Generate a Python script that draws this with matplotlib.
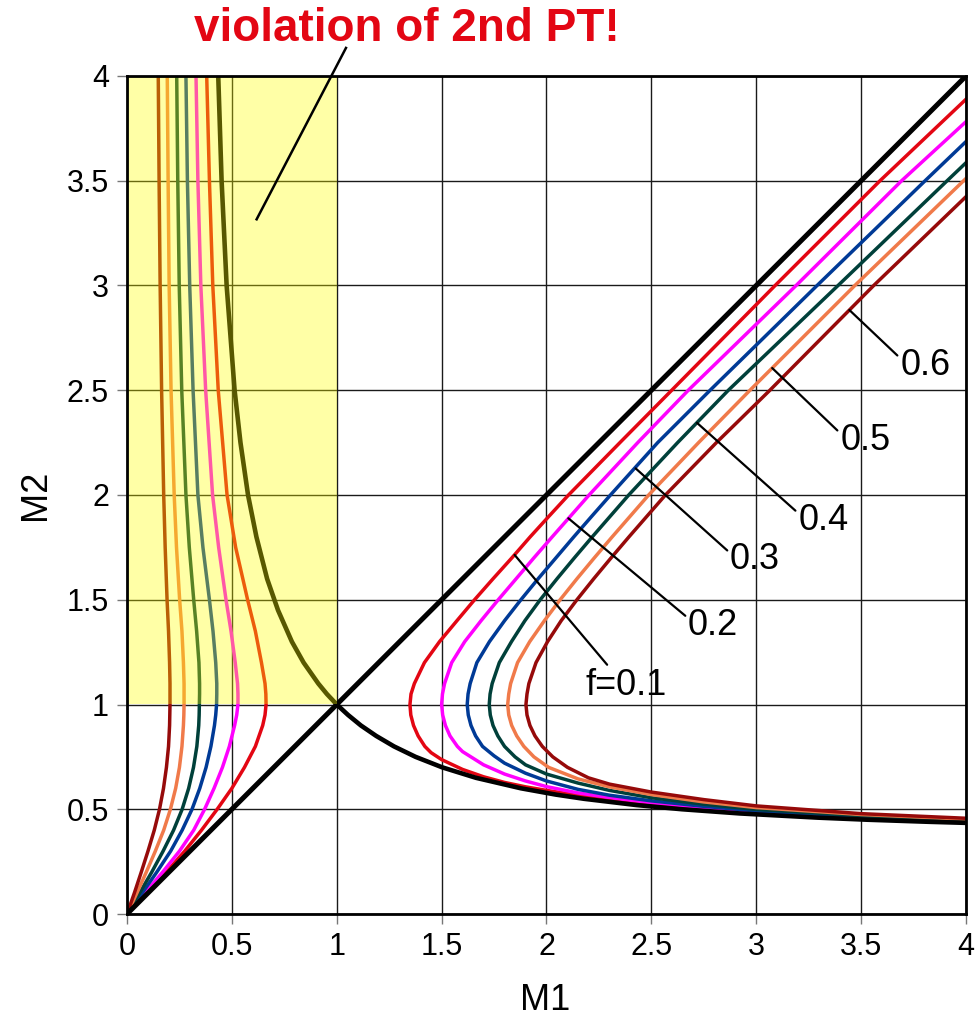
import matplotlib
matplotlib.use('Agg')
import matplotlib.pyplot as plt
from matplotlib.patches import Rectangle

ARIAL = ['Liberation Sans', 'DejaVu Sans']

# ---- data ------------------------------------------------------------
f_labels = ['f=0.1', '0.2', '0.3', '0.4', '0.5', '0.6']
colors = ['#e30613', '#ff00ff', '#003a96', '#00403a', '#f07a4a', '#960a0a']

# supersonic family, each curve traced from its lower end (M1 = 4)
# round the nose to its upper end (M1 = 4)
sup01_m1 = [4.0, 3.5, 3.0, 2.75, 2.5, 2.3, 2.15, 2.0, 1.9, 1.8, 1.7, 1.6, 1.5, 1.45,
            1.42, 1.388, 1.366, 1.353, 1.349, 1.354, 1.37, 1.418, 1.49, 1.573, 1.657,
            1.745, 1.835, 1.922, 2.013, 2.105, 2.35, 2.597, 3.09, 3.59, 4.0]
sup01_m2 = [0.44, 0.459, 0.484, 0.502, 0.524, 0.548, 0.567, 0.59, 0.607, 0.628, 0.655, 0.69,
            0.737, 0.77, 0.80, 0.85, 0.90, 0.95, 1.0, 1.05, 1.1, 1.2, 1.3, 1.4, 1.5,
            1.6, 1.7, 1.8, 1.9, 2.0, 2.25, 2.5, 3.0, 3.5, 3.889]
sup02_m1 = [4.0, 3.5, 3.0, 2.75, 2.5, 2.3, 2.15, 2.0, 1.9, 1.8, 1.7, 1.6,
            1.575, 1.54, 1.518, 1.505, 1.50, 1.504, 1.514, 1.548, 1.61, 1.688, 1.77,
            1.855, 1.94, 2.027, 2.115, 2.203, 2.435, 2.676, 3.19, 3.693, 4.0]
sup02_m2 = [0.443, 0.462, 0.488, 0.508, 0.531, 0.556, 0.578, 0.608, 0.635, 0.668, 0.712, 0.775,
            0.80, 0.85, 0.90, 0.95, 1.0, 1.05, 1.1, 1.2, 1.3, 1.4, 1.5,
            1.6, 1.7, 1.8, 1.9, 2.0, 2.25, 2.5, 3.0, 3.5, 3.782]
sup03_m1 = [4.0, 3.5, 3.0, 2.75, 2.5, 2.3, 2.15, 2.0, 1.9, 1.8, 1.75,
            1.695, 1.662, 1.64, 1.627, 1.622, 1.626, 1.636, 1.668, 1.728, 1.80, 1.878,
            1.96, 2.045, 2.13, 2.217, 2.305, 2.53, 2.78, 3.29, 3.805, 4.0]
sup03_m2 = [0.446, 0.465, 0.492, 0.514, 0.54, 0.567, 0.595, 0.635, 0.672, 0.72, 0.755,
            0.80, 0.85, 0.90, 0.95, 1.0, 1.05, 1.1, 1.2, 1.3, 1.4, 1.5,
            1.6, 1.7, 1.8, 1.9, 2.0, 2.25, 2.5, 3.0, 3.5, 3.687]
sup04_m1 = [4.0, 3.5, 3.0, 2.75, 2.5, 2.3, 2.15, 2.0, 1.9,
            1.85, 1.80, 1.768, 1.745, 1.732, 1.727, 1.731, 1.741, 1.775, 1.833, 1.897, 1.97,
            2.05, 2.133, 2.218, 2.305, 2.392, 2.625, 2.867, 3.39, 3.91, 4.0]
sup04_m2 = [0.45, 0.469, 0.499, 0.524, 0.555, 0.59, 0.625, 0.668, 0.712,
            0.75, 0.80, 0.85, 0.90, 0.95, 1.0, 1.05, 1.1, 1.2, 1.3, 1.4, 1.5,
            1.6, 1.7, 1.8, 1.9, 2.0, 2.25, 2.5, 3.0, 3.5, 3.586]
sup05_m1 = [4.0, 3.5, 3.0, 2.75, 2.5, 2.3, 2.15,
            2.01, 1.94, 1.892, 1.858, 1.834, 1.82, 1.815, 1.82, 1.829, 1.862, 1.92, 1.99,
            2.065, 2.145, 2.228, 2.313, 2.40, 2.487, 2.725, 2.97, 3.47, 4.0]
sup05_m2 = [0.453, 0.475, 0.508, 0.535, 0.57, 0.607, 0.645,
            0.70, 0.75, 0.80, 0.85, 0.90, 0.95, 1.0, 1.05, 1.1, 1.2, 1.3, 1.4,
            1.5, 1.6, 1.7, 1.8, 1.9, 2.0, 2.25, 2.5, 3.0, 3.511]
sup06_m1 = [4.0, 3.5, 3.0, 2.75, 2.5, 2.3,
            2.20, 2.10, 2.03, 1.98, 1.945, 1.921, 1.907, 1.902, 1.907, 1.916, 1.95, 2.005,
            2.07, 2.145, 2.225, 2.308, 2.393, 2.48, 2.567, 2.81, 3.065, 3.56, 4.0]
sup06_m2 = [0.457, 0.479, 0.516, 0.546, 0.582, 0.62,
            0.65, 0.70, 0.75, 0.80, 0.85, 0.90, 0.95, 1.0, 1.05, 1.1, 1.2, 1.3,
            1.4, 1.5, 1.6, 1.7, 1.8, 1.9, 2.0, 2.25, 2.5, 3.0, 3.424]

# subsonic family: M1 read at fixed M2 values
m2_sub = [0.0, 0.1, 0.2, 0.3, 0.4, 0.5, 0.6, 0.7, 0.8, 0.9, 0.95, 1.0, 1.05,
          1.1, 1.2, 1.35, 1.5, 1.75, 2.0, 2.5, 3.0, 3.5, 4.0]
sub01_m1 = [0.0, 0.095, 0.188, 0.275, 0.355, 0.43, 0.50, 0.56, 0.612, 0.647, 0.658, 0.663, 0.662,
            0.658, 0.641, 0.612, 0.575, 0.518, 0.477, 0.435, 0.409, 0.393, 0.380]
sub02_m1 = [0.0, 0.085, 0.17, 0.25, 0.318, 0.37, 0.415, 0.455, 0.488, 0.513, 0.523, 0.529, 0.529,
            0.527, 0.516, 0.496, 0.472, 0.437, 0.408, 0.375, 0.352, 0.338, 0.329]
sub03_m1 = [0.0, 0.072, 0.142, 0.208, 0.263, 0.31, 0.347, 0.377, 0.400, 0.417, 0.423, 0.427, 0.428,
            0.428, 0.423, 0.41, 0.393, 0.362, 0.338, 0.315, 0.299, 0.288, 0.281]
sub04_m1 = [0.0, 0.06, 0.118, 0.172, 0.222, 0.263, 0.294, 0.317, 0.333, 0.342, 0.344, 0.345, 0.346,
            0.346, 0.343, 0.332, 0.318, 0.297, 0.281, 0.261, 0.249, 0.242, 0.237]
sub05_m1 = [0.0, 0.047, 0.092, 0.135, 0.175, 0.207, 0.232, 0.25, 0.262, 0.269, 0.271, 0.272, 0.272,
            0.272, 0.269, 0.262, 0.251, 0.236, 0.225, 0.21, 0.201, 0.196, 0.192]
sub06_m1 = [0.0, 0.035, 0.068, 0.10, 0.13, 0.155, 0.174, 0.188, 0.198, 0.203, 0.204, 0.205, 0.205,
            0.205, 0.203, 0.198, 0.191, 0.182, 0.175, 0.165, 0.158, 0.153, 0.149]

# normal shock curve (black)
shock_m2 = [4.0, 3.5, 3.0, 2.5, 2.25, 2.0, 1.8, 1.6, 1.45, 1.3, 1.2, 1.1, 1.05, 1.0,
            0.95, 0.9, 0.85, 0.8, 0.75, 0.7, 0.65, 0.6, 0.57, 0.55, 0.52, 0.5,
            0.48, 0.46, 0.45, 0.44, 0.435]
shock_m1 = [0.435, 0.451, 0.475, 0.513, 0.541, 0.577, 0.617, 0.668, 0.72, 0.786, 0.842,
            0.912, 0.953, 1.0, 1.054, 1.115, 1.188, 1.273, 1.376, 1.503, 1.664, 1.878,
            2.044, 2.178, 2.429, 2.646, 2.921, 3.292, 3.53, 3.825, 4.0]

# M2 = M1 line
diag = [0.0, 4.0]

# label positions for the f values (left edge, centre) and where each
# leader line touches its curve
label_pos = [(2.184, 1.093), (2.675, 1.379), (2.875, 1.690),
             (3.200, 1.880), (3.400, 2.262), (3.686, 2.620)]
label_hit = [(1.848, 1.714), (2.104, 1.889), (2.425, 2.127),
             (2.718, 2.344), (3.076, 2.606), (3.444, 2.883)]

sup = [(sup01_m1, sup01_m2), (sup02_m1, sup02_m2), (sup03_m1, sup03_m2),
       (sup04_m1, sup04_m2), (sup05_m1, sup05_m2), (sup06_m1, sup06_m2)]
sub = [sub01_m1, sub02_m1, sub03_m1, sub04_m1, sub05_m1, sub06_m1]

# ---- figure ------------------------------------------------------------
fig = plt.figure(figsize=(9.79, 10.21), dpi=100)
ax = fig.add_axes([127 / 979, 1 - 914 / 1021, (966 - 127) / 979, (914 - 76) / 1021])
ax.set_xlim(0, 4)
ax.set_ylim(0, 4)

ticks = [0, 0.5, 1, 1.5, 2, 2.5, 3, 3.5, 4]
tick_labels = ['0', '0.5', '1', '1.5', '2', '2.5', '3', '3.5', '4']
ax.set_xticks(ticks)
ax.set_yticks(ticks)
ax.set_xticklabels(tick_labels)
ax.set_yticklabels(tick_labels)
ax.grid(True, color='#1a1a1a', lw=1.0, zorder=0)
ax.set_axisbelow(True)
ax.tick_params(direction='out', length=7, width=1, color='#777777', pad=6)
for lab in ax.get_xticklabels() + ax.get_yticklabels():
    lab.set_family(ARIAL)
    lab.set_fontsize(22)
for s in ax.spines.values():
    s.set_linewidth(2.0)
    s.set_zorder(10)

for c, m1 in zip(colors, sub):
    ax.plot(m1, m2_sub, color=c, lw=2.5, zorder=3)

for c, (m1, m2) in zip(colors, sup):
    ax.plot(m1, m2, color=c, lw=2.5, zorder=3)

ax.plot(shock_m1, shock_m2, color='black', lw=3.3, zorder=4)
ax.plot(diag, diag, color='black', lw=3.6, zorder=4, solid_capstyle='butt')

# yellow "forbidden" zone, laid over the curves so they show through tinted
ax.add_patch(Rectangle((0, 1), 1, 3, facecolor=(1, 1, 0), alpha=0.35,
                       edgecolor='none', zorder=6))

for txt, (tx, ty), (hx, hy) in zip(f_labels, label_pos, label_hit):
    rel = (0.3, 1.0) if txt.startswith('f') else (0.0, 0.7)
    ax.annotate(txt, xy=(hx, hy), xytext=(tx, ty), ha='left', va='center',
                fontsize=26, family=ARIAL, zorder=8,
                arrowprops=dict(arrowstyle='-', color='black', lw=1.6,
                                shrinkA=0, shrinkB=0, relpos=rel))

ax.plot([0.618, 1.044], [3.316, 4.134], color='black', lw=1.8, zorder=8,
        clip_on=False)
fig.text(0.416, 0.972, 'violation of 2nd PT!', color='#e30613', fontsize=33,
         fontweight='bold', family=ARIAL, ha='center', va='center')

fig.text(545 / 979, 1 - 1000 / 1021, 'M1', fontsize=26, family=ARIAL,
         ha='center', va='center')
fig.text(35 / 979, 1 - 495 / 1021, 'M2', fontsize=26, family=ARIAL,
         ha='center', va='center', rotation=90)

fig.savefig('out.png', dpi=100)
